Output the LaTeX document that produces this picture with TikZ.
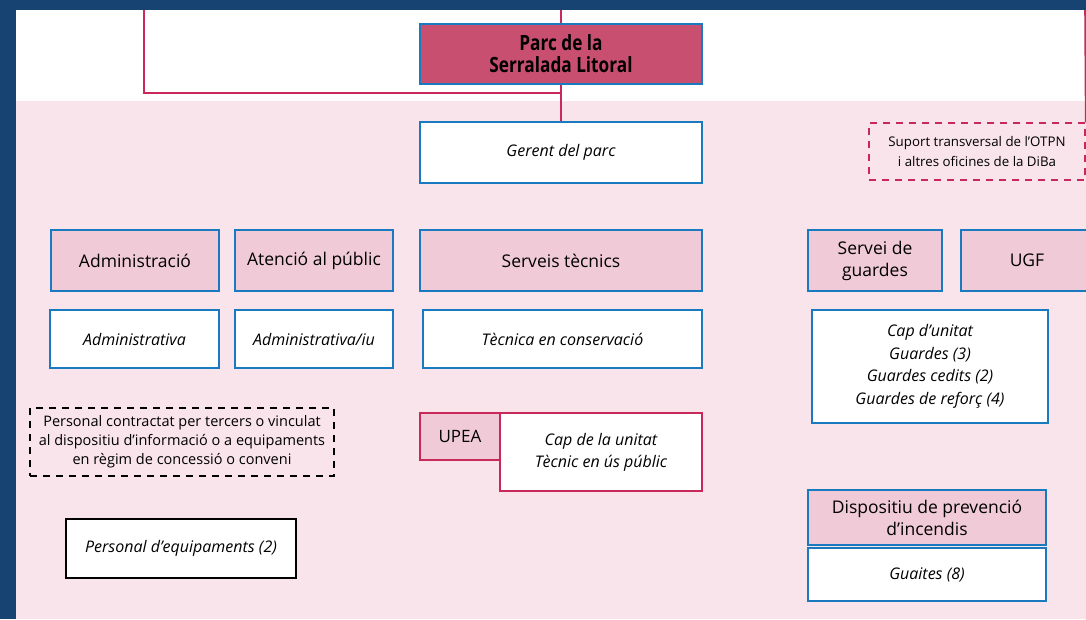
\documentclass[tikz,border=0pt]{standalone}
\usepackage{fontspec}
\setmainfont{Open Sans}
\newfontfamily\parcfont{Open Sans}[FakeStretch=0.82]
\usetikzlibrary{positioning}
\definecolor{navy}{RGB}{22,67,113}
\definecolor{bgpink}{RGB}{248,228,234}
\definecolor{hdpink}{RGB}{240,203,215}
\definecolor{crimson}{RGB}{200,79,112}
\definecolor{redline}{RGB}{200,40,90}
\definecolor{boxblue}{RGB}{26,122,192}
\tikzset{
  box/.style={draw=boxblue, line width=1.6pt, fill=white, align=center, inner sep=0pt,
    font=\fontsize{16}{22}\selectfont\itshape},
  head/.style={box, fill=hdpink, font=\fontsize{17.5}{22}\selectfont},
  redbox/.style={box, draw=redline},
  link/.style={draw=redline, line width=1.6pt},
  dash box/.style={draw, line width=1.4pt, dash pattern=on 7pt off 6pt, align=center, inner sep=0pt,
    font=\fontsize{14.5}{19}\selectfont},
  sz/.style n args={2}{minimum width=#1pt, minimum height=#2pt}
}

\begin{document}
\begin{tikzpicture}[x=1pt,y=-1pt]
\useasboundingbox (0,0) rectangle (1086,619);
\clip (0,0) rectangle (1086,619);
% background
\fill[navy] (0,0) rectangle (1086,619);
\fill[white] (16,10) rectangle (1086,101);
\fill[bgpink] (16,101) rectangle (1086,619);

% top
\node[box, fill=crimson, sz={282}{60}, font=\parcfont\fontsize{21}{22}\selectfont\bfseries] (parc) at (561,54) {Parc de la\\Serralada Litoral};
\node[box, sz={282}{61}] (gerent) at (561,152.5) {Gerent del parc};
\node[dash box, draw=redline, sz={216}{57}, font=\fontsize{13.3}{20}\selectfont] (suport) at (977,151.5) {Suport transversal de l'OTPN\\i altres oficines de la DiBa};

% connectors
\coordinate (top) at (561,10);
\coordinate (topl) at (144,10);
\coordinate (topr) at (1085,10);
\coordinate (bend) at (561,93);
\draw[link] (top) -- (parc.north);
\draw[link] (parc.south) -- (gerent.north);
\draw[link] (bend) -| (topl);
\draw[link] (topr) -- (suport.north east);

% services
\node[head, sz={168}{61}] (admin) at (135,260.5) {Administració};
\node[head, sz={158}{61}] (atencio) at (314,260.5) {Atenció al públic};
\node[head, sz={282}{61}] (serveis) at (561,260.5) {Serveis tècnics};
\node[head, sz={134}{61}] (guardes) at (875,260.5) {Servei de\\guardes};
\node[head, sz={132}{61}] (ugf) at (1027,260.5) {UGF};

\node[box, sz={169}{58}] (admva) at (134.5,339) {Administrativa};
\node[box, sz={158}{58}] (admvaiu) at (314,339) {Administrativa/iu};
\node[box, sz={279}{58}] (tecnica) at (562.5,339) {Tècnica en conservació};
\node[box, sz={236}{113}, font=\fontsize{16}{22.5}\selectfont\itshape] (capguardes) at (930,366.5) {Cap d'unitat\\Guardes (3)\\Guardes cedits (2)\\Guardes de reforç (4)};

% lower part
\node[dash box, sz={304}{68}] (tercers) at (182,442) {Personal contractat per tercers o vinculat\\al dispositiu d'informació o a equipaments\\en règim de concessió o conveni};
\node[box, draw=black, sz={230}{59}] (equip) at (181,548.5) {Personal d'equipaments (2)};
\node[redbox, fill=hdpink, sz={80}{47}, font=\fontsize{17}{22}\selectfont] (upea) at (460,436.5) {UPEA};
\node[redbox, sz={202}{78}] (capupea) at (601,452) {Cap de la unitat\\Tècnic en ús públic};
\node[head, sz={238}{55}] (incendis) at (927,517.5) {Dispositiu de prevenció\\d'incendis};
\node[box, sz={238}{53}] (guaites) at (927,574.5) {Guaites (8)};
\end{tikzpicture}
\end{document}
